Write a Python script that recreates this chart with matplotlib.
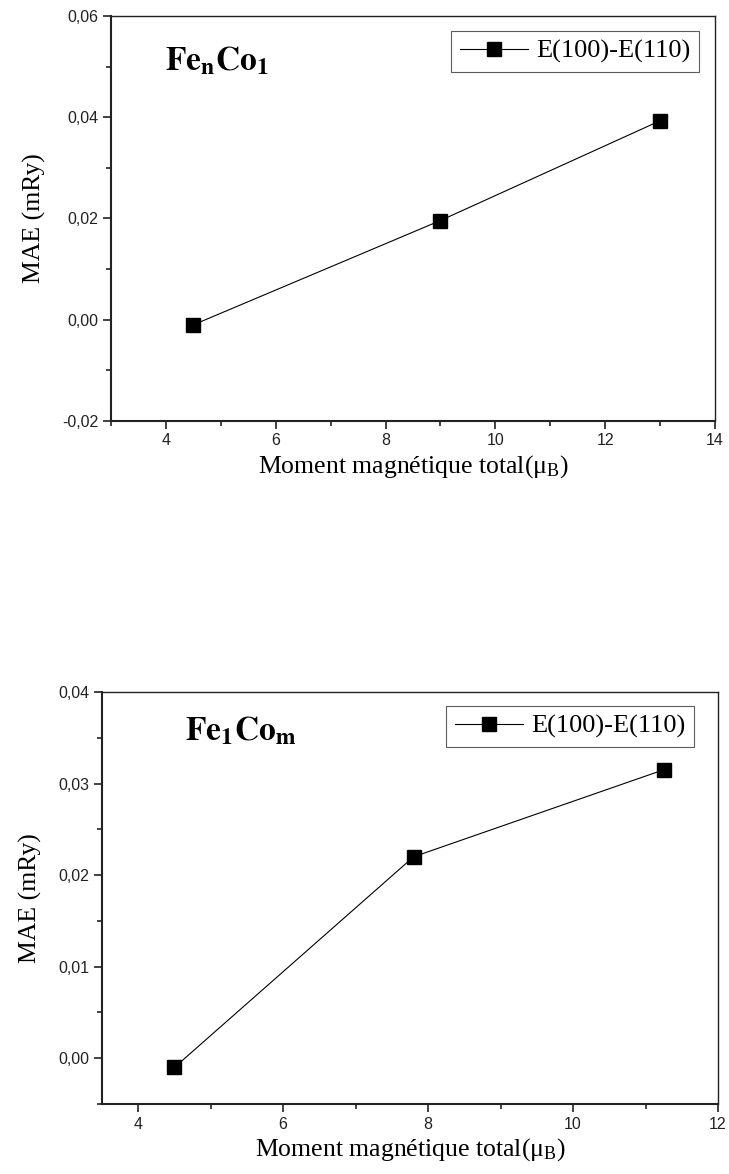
import matplotlib
matplotlib.use("Agg")
import matplotlib.pyplot as plt
from matplotlib.ticker import MultipleLocator, FuncFormatter

# Data
x_top = [4.5, 9.0, 13.0]
y_top = [-0.001, 0.0196, 0.0393]
x_bot = [4.5, 7.8, 11.25]
y_bot = [-0.001, 0.022, 0.0315]
legend_label = "E(100)-E(110)"
xlabel = r"Moment magnétique total($\mathregular{\mu_B}$)"
ylabel = "MAE (mRy)"

serif = "Liberation Serif"
sans = "Liberation Sans"

fig = plt.figure(figsize=(7.29, 11.74), dpi=100)

def comma2(v, pos):
    return f"{v:.2f}".replace(".", ",")

def intfmt(v, pos):
    return f"{int(round(v))}"

def style(ax, xlim, ylim, xmaj, ymaj, ymin):
    ax.set_xlim(*xlim)
    ax.set_ylim(*ylim)
    ax.xaxis.set_major_locator(MultipleLocator(xmaj))
    ax.xaxis.set_minor_locator(MultipleLocator(xmaj / 2))
    ax.yaxis.set_major_locator(MultipleLocator(ymaj))
    ax.yaxis.set_minor_locator(MultipleLocator(ymin))
    ax.yaxis.set_major_formatter(FuncFormatter(comma2))
    ax.xaxis.set_major_formatter(FuncFormatter(intfmt))
    ax.tick_params(which="both", direction="out", top=False, right=False, width=1.2, colors="#222222")
    ax.tick_params(which="major", length=6, labelsize=11.5, pad=3)
    ax.tick_params(which="minor", length=3.5)
    for lab in ax.get_xticklabels() + ax.get_yticklabels():
        lab.set_fontfamily(sans)
    for s in ["left", "bottom"]:
        ax.spines[s].set_linewidth(1.5)
        ax.spines[s].set_color("#222222")
    for s in ["top", "right"]:
        ax.spines[s].set_linewidth(1.0)
        ax.spines[s].set_color("#222222")
    ax.set_xlabel(xlabel, fontfamily=serif, fontsize=18.5, labelpad=3)
    ax.set_ylabel(ylabel, fontfamily=serif, fontsize=18.5, labelpad=12)

legend_kw = dict(prop={"family": serif, "size": 19}, frameon=True, fancybox=False,
                 edgecolor="#333333", handlelength=2.6, borderpad=0.32,
                 handletextpad=0.3, borderaxespad=0)

# Top plot
ax1 = fig.add_axes([0.1523, 0.6414, 0.8285, 0.345])
ax1.plot(x_top, y_top, color="black", lw=0.8, marker="s", ms=9.5, mfc="black", mec="black", label=legend_label)
style(ax1, (3, 14), (-0.02, 0.06), 2, 0.02, 0.01)
leg1 = ax1.legend(loc="upper right", bbox_to_anchor=(0.9735, 0.963), **legend_kw)
leg1.get_frame().set_linewidth(0.8)
ax1.text(0.09, 0.93, r"$\mathbf{Fe_{n}Co_{1}}$", transform=ax1.transAxes, fontsize=24,
         fontfamily=serif, va="top", ha="left", math_fontfamily="stix")

# Bottom plot
ax2 = fig.add_axes([0.1399, 0.0596, 0.845, 0.351])
ax2.plot(x_bot, y_bot, color="black", lw=0.8, marker="s", ms=9.5, mfc="black", mec="black", label=legend_label)
style(ax2, (3.5, 12), (-0.005, 0.04), 2, 0.01, 0.005)
leg2 = ax2.legend(loc="upper right", bbox_to_anchor=(0.961, 0.966), **legend_kw)
leg2.get_frame().set_linewidth(0.8)
ax2.text(0.135, 0.945, r"$\mathbf{Fe_{1}Co_{m}}$", transform=ax2.transAxes, fontsize=24,
         fontfamily=serif, va="top", ha="left", math_fontfamily="stix")

fig.savefig("out.png", dpi=100)
